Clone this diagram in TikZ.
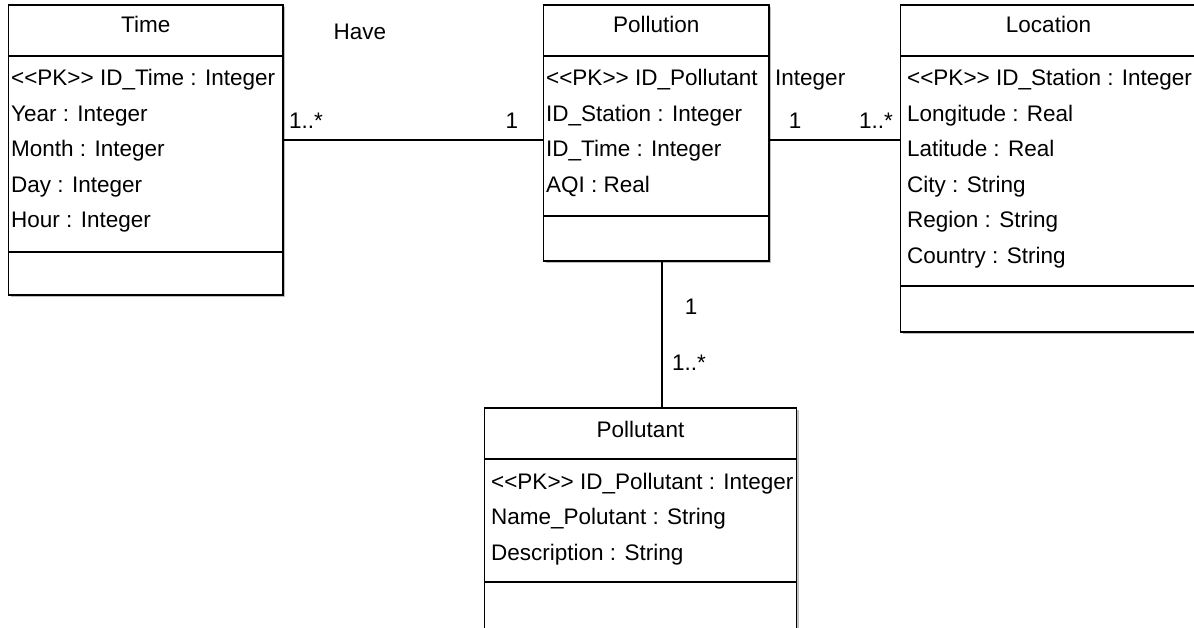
\documentclass[tikz,border=0pt]{standalone}
\usepackage{fontspec}
\setmainfont{Liberation Sans}[Ligatures=TeXOff]
\usetikzlibrary{shadows}

\begin{document}
\begin{tikzpicture}[x=1pt, y=-1pt,
	classbox/.style={draw, fill=white, line width=1.5pt, inner sep=0pt, outer sep=0pt, anchor=north west,
		drop shadow={shadow xshift=2pt, shadow yshift=-2pt, fill=black, opacity=0.25}},
	attr/.style={anchor=base west, inner sep=0pt},
	title/.style={anchor=base, inner sep=0pt},
	mult/.style={anchor=base, inner sep=0pt},
	assoc/.style={line width=1.5pt},
	every node/.append style={font=\fontsize{22.5}{27}\selectfont}]
	\clip (0, 0) rectangle (1194, 628);
	\def\rowh{35.5}

	% class boxes
	\node[classbox, minimum width=274.5pt, minimum height=290pt] (time) at (8.5, 5) {};
	\node[classbox, minimum width=225.5pt, minimum height=256pt] (pollution) at (543.5, 5) {};
	\node[classbox, minimum width=296pt, minimum height=327pt] (location) at (900.5, 5) {};
	\node[classbox, minimum width=312pt, minimum height=240pt] (pollutant) at (484.5, 408) {};

	\foreach \c/\ya/\yb in {time/56/252, pollution/56/216, location/56/286, pollutant/459/582} {
			\draw[assoc] (\c.west |- 0,\ya) -- (\c.east |- 0,\ya);
			\draw[assoc] (\c.west |- 0,\yb) -- (\c.east |- 0,\yb);
		}

	\node[title] (time-t) at (time.north |- 0,33) {Time};
	\node[title] (pollution-t) at (pollution.north |- 0,33) {Pollution};
	\node[title] (location-t) at (location.north |- 0,33) {Location};
	\node[title] (pollutant-t) at (pollutant.north |- 0,437) {Pollutant};

	% attributes
	\foreach \t [count = \i] in {<<PK>> ID\_Time : Integer, Year : Integer, Month : Integer, Day : Integer, Hour : Integer} {
			\node[attr] (time-\i) at (11, {86 + \rowh*(\i-1)}) {\t};
		}
	\foreach \t [count = \i] in {<<PK>> ID\_Pollutant, ID\_Station : Integer, ID\_Time : Integer, AQI : Real} {
			\node[attr] (pollution-\i) at (546, {86 + \rowh*(\i-1)}) {\t};
		}
	\foreach \t [count = \i] in {<<PK>> ID\_Station : Integer, Longitude : Real, Latitude : Real, City : String, Region : String, Country : String} {
			\node[attr] (location-\i) at (907, {86 + \rowh*(\i-1)}) {\t};
		}
	\foreach \t [count = \i] in {<<PK>> ID\_Pollutant : Integer, Name\_Polutant : String, Description : String} {
			\node[attr] (pollutant-\i) at (491, {489 + \rowh*(\i-1)}) {\t};
		}
	\node[attr] (overflow) at (775, 86) {Integer};

	% associations
	\draw[assoc] (time.east |- 0,140) -- (pollution.west |- 0,140);
	\draw[assoc] (pollution.east |- 0,140) -- (location.west |- 0,140);
	\draw[assoc] (pollution.south -| 662,0) -- (pollutant.north -| 662,0);

	\node[title] (have) at (360, 40) {Have};
	\node[mult] (m1) at (306, 129) {1..*};
	\node[mult] (m2) at (512, 129) {1};
	\node[mult] (m3) at (795, 129) {1};
	\node[mult] (m4) at (876, 129) {1..*};
	\node[mult] (m5) at (691, 315) {1};
	\node[mult] (m6) at (689, 370) {1..*};
\end{tikzpicture}
\end{document}
